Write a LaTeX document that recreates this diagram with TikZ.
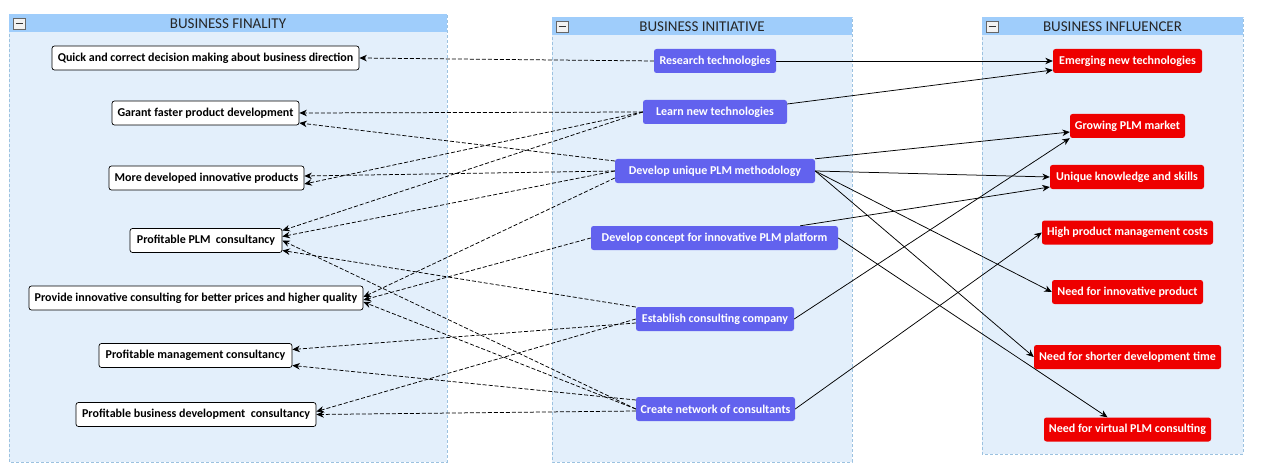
\documentclass[tikz,border=0pt]{standalone}
\usepackage{fontspec}
\setmainfont{Carlito}
\usetikzlibrary{arrows.meta}
\definecolor{panelbody}{HTML}{E3EFFB}
\definecolor{panelhead}{HTML}{9FCDFB}
\definecolor{panelline}{HTML}{9CC2E0}
\definecolor{initblue}{HTML}{6262EE}
\definecolor{inflred}{HTML}{EE0000}
\tikzset{
  panel/.style={draw=panelline, fill=panelbody, dash pattern=on 3pt off 2pt, line width=0.6pt},
  panelhd/.style={fill=panelhead, draw=none},
  hdtext/.style={font=\fontsize{15}{17}\selectfont, text=black!85, inner sep=0pt},
  minusbox/.style={draw=black!60, fill=black!5, line width=0.6pt},
  basebox/.style={rounded corners=2.5pt, inner sep=0pt, minimum height=24pt, align=center, font=\bfseries\fontsize{12}{14}\selectfont},
  finbox/.style={basebox, draw=black, fill=white, line width=0.7pt, text=black},
  initbox/.style={basebox, fill=initblue, text=white},
  inflbox/.style={basebox, fill=inflred, text=white},
  solidarr/.style={-{Stealth[length=7.5pt,width=6.5pt]}, line width=0.75pt, black},
  dasharr/.style={-{Stealth[length=7.5pt,width=6.5pt]}, line width=0.75pt, black, dash pattern=on 4pt off 2pt}
}
\begin{document}
\begin{tikzpicture}[x=1pt,y=-1pt]
\useasboundingbox (0,0) rectangle (1264,476);
% panels
\path[panel] (9,14) rectangle (447,462);
\path[panelhd] (9.3,14.3) rectangle (446.7,32);
\node[hdtext] (hfin) at (228,23.5) {BUSINESS FINALITY};
\path[minusbox] (13,18) rectangle (25,29);
\draw[black!80, line width=0.8pt] (15.5,23.5) -- (22.5,23.5);

\path[panel] (552,17) rectangle (852,462);
\path[panelhd] (552.3,17.3) rectangle (851.7,35);
\node[hdtext] (hini) at (702,26.5) {BUSINESS INITIATIVE};
\path[minusbox] (556,21) rectangle (568,32);
\draw[black!80, line width=0.8pt] (558.5,26.5) -- (565.5,26.5);

\path[panel] (982,17) rectangle (1243,454);
\path[panelhd] (982.3,17.3) rectangle (1242.7,35);
\node[hdtext] (hinf) at (1112.5,26.5) {BUSINESS INFLUENCER};
\path[minusbox] (986,21) rectangle (998,32);
\draw[black!80, line width=0.8pt] (988.5,26.5) -- (995.5,26.5);

% finality nodes
\node[finbox, minimum width=307pt] (q) at (205.5,58) {Quick and correct decision making about business direction};
\node[finbox, minimum width=187pt] (g) at (205.5,113) {Garant faster product development};
\node[finbox, minimum width=195pt] (m) at (206.5,178) {More developed innovative products};
\node[finbox, minimum width=152pt] (p) at (206,240.5) {Profitable PLM\ \ consultancy};
\node[finbox, minimum width=334pt] (v) at (196,298) {Provide innovative consulting for better prices and higher quality};
\node[finbox, minimum width=193pt] (mc) at (195.5,355.5) {Profitable management consultancy};
\node[finbox, minimum width=240pt] (bd) at (196,414.5) {Profitable business development\ \ consultancy};

% initiative nodes
\node[initbox, minimum width=122pt] (rt) at (715,61) {Research technologies};
\node[initbox, minimum width=144pt] (ln) at (715,112) {Learn new technologies};
\node[initbox, minimum width=200pt] (du) at (715,171) {Develop unique PLM methodology};
\node[initbox, minimum width=247pt] (dc) at (714.5,238) {Develop concept for innovative PLM platform};
\node[initbox, minimum width=158pt] (ec) at (715,319) {Establish consulting company};
\node[initbox, minimum width=159pt] (cn) at (715.5,409) {Create network of consultants};

% influencer nodes
\node[inflbox, minimum width=149pt] (em) at (1127.5,61) {Emerging new technologies};
\node[inflbox, minimum width=115pt] (gp) at (1127.5,126) {Growing PLM market};
\node[inflbox, minimum width=154pt] (uk) at (1127,177) {Unique knowledge and skills};
\node[inflbox, minimum width=171pt] (hp) at (1127.5,232.5) {High product management costs};
\node[inflbox, minimum width=151pt] (ni) at (1127.5,292) {Need for innovative product};
\node[inflbox, minimum width=187pt] (ns) at (1127.5,357) {Need for shorter development time};
\node[inflbox, minimum width=167pt] (nv) at (1127.5,429.5) {Need for virtual PLM consulting};

% solid connectors
\draw[solidarr] (rt.east) -- (em.west);
\draw[solidarr] ([yshift=8pt]ln.east) -- ([yshift=-9pt]em.west);
\draw[solidarr] (du.north east) -- ([yshift=-6pt]gp.west);
\draw[solidarr] (du.east) -- (uk.west);
\draw[solidarr] (du.east) -- (ni.west);
\draw[solidarr] (du.east) -- (ns.west);
\draw[solidarr] ([xshift=-38pt]dc.north east) -- ([yshift=-10pt]uk.west);
\draw[solidarr] (dc.east) -- ([xshift=-20pt]nv.north);
\draw[solidarr] (ec.east) -- (gp.south west);
\draw[solidarr] (cn.east) -- (hp.west);

% dashed connectors
\draw[dasharr] (rt.west) -- (q.east);
\draw[dasharr] (ln.west) -- (g.east);
\draw[dasharr] (ln.west) -- ([yshift=-6pt]m.east);
\draw[dasharr] (ln.west) -- ([yshift=10pt]p.east);
\draw[dasharr] ([yshift=10pt]du.west) -- ([yshift=-10pt]g.east);
\draw[dasharr] (du.west) -- ([yshift=2pt]m.east);
\draw[dasharr] (du.west) -- ([yshift=4pt]p.east);
\draw[dasharr] ([yshift=-7pt]du.west) -- ([yshift=1pt]v.east);
\draw[dasharr] (dc.west) -- ([yshift=-2pt]v.east);
\draw[dasharr] ([yshift=12pt]ec.west) -- ([yshift=-10pt]p.east);
\draw[dasharr] (ec.west) -- ([yshift=3pt]bd.east);
\draw[dasharr] ([yshift=-4pt]ec.west) -- ([yshift=6pt]mc.east);
\draw[dasharr] ([yshift=9pt]cn.west) -- ([yshift=-10pt]mc.east);
\draw[dasharr] (cn.west) -- (p.east);
\draw[dasharr] (cn.west) -- ([yshift=-4pt]v.east);
\draw[dasharr] ([yshift=-2pt]cn.west) -- (bd.east);
\end{tikzpicture}
\end{document}
